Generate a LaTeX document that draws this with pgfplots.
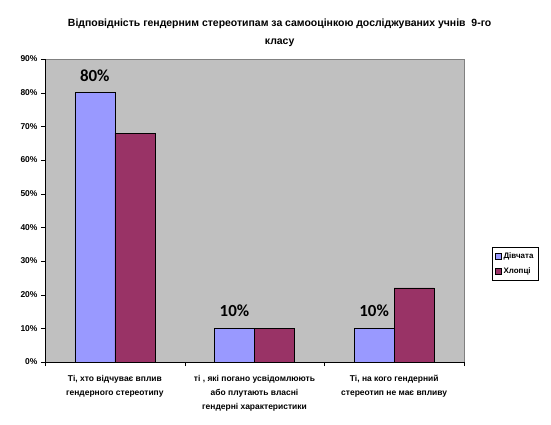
\documentclass[border=0pt]{standalone}
\usepackage{pgfplots}
\pgfplotsset{compat=1.18}
\usepackage{fontspec}
\setmainfont{Liberation Sans}
\newfontfamily\annfont{Carlito}
\definecolor{girls}{HTML}{9999FF}
\definecolor{boys}{HTML}{993366}
\definecolor{plotbg}{HTML}{C0C0C0}
\begin{document}
\begin{tikzpicture}
\useasboundingbox[fill=white] (-45bp,-63bp) rectangle (506bp,362bp);
\begin{axis}[
  at={(0,0)}, anchor=south west,
  scale only axis,
  width=419bp, height=303bp,
  ybar=0pt, bar width=40bp,
  xmin=-0.5, xmax=2.5,
  ymin=0, ymax=90,
  axis background/.style={fill=plotbg, draw=gray, line width=0.8pt},
  axis x line*=bottom, axis y line*=left,
  x axis line style={draw=black},
  y axis line style={draw=black},
  ytick={0,10,...,90},
  yticklabel={\pgfmathprintnumber{\tick}\%},
  /pgf/number format/assume math mode=true,
  xtick={-0.5,0.5,1.5,2.5},
  xticklabels={},
  extra x ticks={0,1,2},
  extra x tick style={major tick length=0pt},
  extra x tick labels={{Ті, хто відчуває вплив\\гендерного стереотипу},{ті , які погано усвідомлюють\\або плутають власні\\гендерні характеристики},{Ті, на кого гендерний\\стереотип не має впливу}},
  x tick label style={font=\bfseries\fontsize{8.5}{14}\selectfont, align=center, yshift=-10bp},
  y tick label style={font=\bfseries\fontsize{8.5}{9}\selectfont},
  tick align=outside,
  major tick length=4bp,
  tick style={black},
  title={Відповідність гендерним стереотипам за самооцінкою досліджуваних учнів~ 9-го\\класу},
  title style={font=\bfseries\fontsize{10.5}{18}\selectfont, align=center, at={(0.56,1)}, yshift=3bp},
  legend style={at={(1.067,0.27)}, anchor=south west, draw=black, fill=white,
    font=\bfseries\fontsize{8}{9}\selectfont, row sep=4bp, inner sep=3bp},
  legend cell align=left,
  legend image code/.code={\draw[#1, draw=black, line width=0.3pt] (0bp,-3bp) rectangle (6bp,3bp);},
]
\addplot[fill=girls, draw=black, line width=0.4pt,
  nodes near coords={\pgfmathprintnumber{\pgfplotspointmeta}\%},
  nodes near coords style={font=\annfont\bfseries\fontsize{17}{20}\selectfont, yshift=8bp, black},
  point meta=y] coordinates {(0,80) (1,10) (2,10)};
\addplot[fill=boys, draw=black, line width=0.4pt] coordinates {(0,68) (1,10) (2,22)};
\legend{Дівчата, Хлопці}
\end{axis}
\end{tikzpicture}
\end{document}
